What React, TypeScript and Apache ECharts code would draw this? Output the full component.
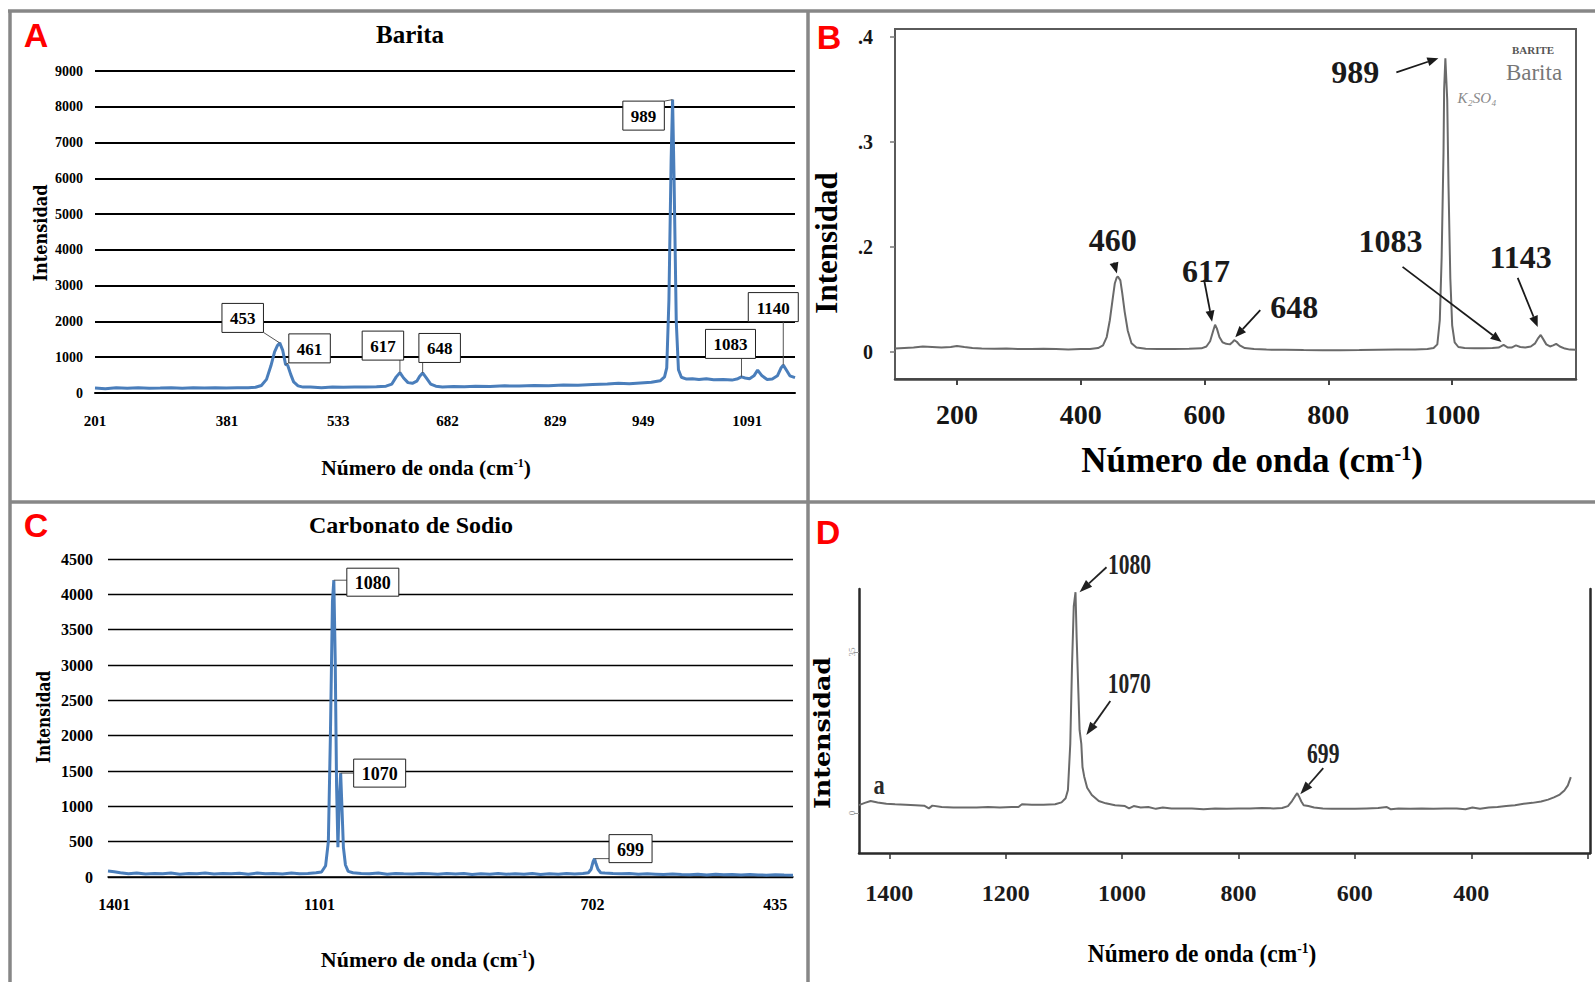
import React, { useEffect, useRef } from 'react';
import * as echarts from 'echarts';

const SERIF = '"Liberation Serif", "Times New Roman", Times, serif';
const WIDE = '"DejaVu Serif", "Liberation Serif", serif';
const SANS = '"Liberation Sans", Arial, sans-serif';
const FRAME = '#878787';

// ---------- Panel A: Barita (Excel chart) ----------
const A_WN = [201,215,230,245,260,275,290,305,320,335,350,365,380,395,410,420,428,435,441,446,450,453,457,461,464,468,472,478,485,495,510,525,540,555,570,585,598,606,612,617,622,628,634,640,644,648,653,659,666,675,690,705,720,740,760,780,800,820,840,860,880,900,915,930,945,960,972,978,981,984,987,989,991,994,997,1001,1008,1016,1025,1035,1045,1058,1070,1078,1083,1088,1094,1100,1105,1111,1118,1125,1132,1137,1140,1144,1149,1156];
const A_INT = [140,120,145,130,150,135,140,150,135,145,140,150,140,150,145,160,210,380,760,1150,1330,1400,1200,800,770,520,310,200,165,170,150,165,160,170,165,175,190,250,450,570,420,290,270,330,470,560,420,250,190,170,180,175,190,185,200,195,210,205,225,220,240,250,270,260,280,300,340,450,700,2600,6500,8200,6000,2000,650,440,390,400,380,400,370,380,360,400,450,420,400,480,640,480,380,390,480,700,780,650,480,430];
const A_X_TICKS = [201, 381, 533, 682, 829, 949, 1091];
const A_PEAK_WN = [453, 461, 617, 648, 989, 1083, 1140];
const A_PEAK_LABELS = ['453', '461', '617', '648', '989', '1083', '1140'];

// ---------- Panel B: Barita (reference spectrum) ----------
const B_WN = [100,115,130,145,160,175,190,200,212,225,240,260,280,300,320,340,360,380,400,415,428,436,442,447,452,455,458,460,464,467,471,476,482,490,505,525,550,575,595,603,609,614,617,620,624,629,635,641,645,648,652,657,665,680,700,730,760,790,820,850,880,910,940,960,970,976,980,983,986,987,989,992,994,997,1000,1004,1010,1020,1035,1050,1065,1075,1083,1090,1096,1103,1110,1118,1127,1134,1139,1143,1147,1152,1158,1163,1168,1174,1182,1190,1200];
const B_VAL = [0.1030,0.1035,0.1040,0.1050,0.1045,0.1040,0.1045,0.1055,0.1045,0.1035,0.1030,0.1028,0.1030,0.1025,0.1025,0.1028,0.1025,0.1022,0.1025,0.1025,0.1035,0.1060,0.1140,0.1300,0.1520,0.1650,0.1705,0.1717,0.1680,0.1560,0.1380,0.1200,0.1080,0.1040,0.1028,0.1025,0.1025,0.1028,0.1032,0.1050,0.1100,0.1200,0.1257,0.1220,0.1140,0.1090,0.1075,0.1070,0.1090,0.1110,0.1095,0.1060,0.1035,0.1025,0.1020,0.1018,0.1016,0.1015,0.1015,0.1016,0.1018,0.1020,0.1022,0.1025,0.1035,0.1070,0.1300,0.1900,0.2900,0.3500,0.3797,0.3400,0.2600,0.1700,0.1250,0.1090,0.1045,0.1035,0.1032,0.1032,0.1035,0.1040,0.1065,0.1040,0.1040,0.1060,0.1045,0.1040,0.1050,0.1080,0.1130,0.1160,0.1120,0.1070,0.1050,0.1060,0.1075,0.1050,0.1030,0.1020,0.1018];
const B_X_TICKS = [200, 400, 600, 800, 1000];
const B_Y_TICKS = [0.1, 0.2, 0.3, 0.4];
const B_Y_TICK_TEXT = ['0', '.2', '.3', '.4'];
const B_PEAK_WN = [460, 617, 648, 989, 1083, 1143];
const B_PEAK_LABELS = ['460', '617', '648', '989', '1083', '1143'];

// ---------- Panel C: Carbonato de Sodio (Excel chart) ----------
const C_WN = [1410,1401,1392,1380,1368,1355,1342,1330,1318,1305,1292,1280,1268,1255,1242,1230,1218,1205,1192,1180,1168,1155,1142,1130,1118,1106,1098,1092,1088,1085,1082,1080,1078,1076,1074,1072,1070,1068,1066,1063,1059,1052,1040,1028,1015,1002,990,978,965,952,940,928,915,902,890,878,865,852,840,828,815,802,790,778,765,752,740,728,716,708,704,701,699,697,694,690,684,672,660,648,635,622,610,598,585,572,560,548,535,522,510,498,485,472,460,448,435,422,409];
const C_INT = [85,75,60,45,55,42,50,45,55,40,50,45,55,42,50,45,52,40,55,45,50,42,55,45,50,60,70,160,500,2000,3900,4200,3100,1300,420,1100,1470,950,420,170,80,60,50,45,55,40,50,45,42,50,45,38,48,42,50,36,45,40,48,38,45,40,50,36,45,40,48,44,50,60,110,220,260,190,110,60,55,48,45,50,38,45,40,35,42,36,32,40,30,38,32,35,28,36,30,26,32,28,26];
const C_X_TICKS = [1401, 1101, 702, 435];
const C_PEAK_WN = [1080, 1070, 699];
const C_PEAK_LABELS = ['1080', '1070', '699'];

// ---------- Panel D: reference spectrum ----------
const D_WN = [1452,1442,1432,1420,1405,1390,1372,1355,1340,1332,1326,1310,1290,1270,1250,1230,1210,1190,1178,1172,1155,1135,1115,1104,1097,1093,1089,1086,1083,1080,1078,1075,1073,1070,1068,1065,1060,1052,1040,1028,1012,995,988,980,968,955,942,930,915,900,880,860,840,820,800,780,760,740,725,715,708,703,699,696,692,688,680,670,655,640,620,600,580,560,545,538,525,505,485,465,445,425,410,398,385,370,355,340,325,310,295,280,268,258,248,240,234,229];
const D_VAL = [1.7,2.2,2.6,2.3,2.0,1.9,1.8,1.7,1.6,1.0,1.6,1.3,1.2,1.2,1.2,1.3,1.2,1.3,1.3,1.9,1.8,1.8,1.9,2.3,3.2,5.0,15,32,45,48,38,26,18,15,10,7.9,5.5,3.9,2.6,2.1,1.7,1.5,1.0,1.5,1.2,1.3,0.9,1.2,1.0,1.0,1.0,0.8,1.0,0.9,1.0,1.0,1.1,1.0,1.1,1.5,2.6,3.6,4.3,3.6,2.5,1.7,1.5,1.2,1.0,0.9,0.9,0.9,1.0,1.1,1.3,0.8,1.0,0.9,1.0,0.9,1.0,1.0,0.8,1.2,0.9,1.2,1.3,1.5,1.7,2.0,2.2,2.5,2.9,3.4,4.0,4.9,6.0,7.8];
const D_X_TICKS = [1400, 1200, 1000, 800, 600, 400, 200];
const D_X_LABELS = [1400, 1200, 1000, 800, 600, 400];
const D_Y_TICKS = [0, 35];
const D_PEAK_WN = [1080, 1070, 699];
const D_PEAK_LABELS = ['1080', '1070', '699'];

// ---------- annotation layout (pixel offsets from the annotated point) ----------
const A_CALLOUT_OFFSET = [[-37, -25], [24, -16], [-17, -27], [17, -25], [-29, 16], [-11, -33], [-10, -58]];
const C_CALLOUT_OFFSET = [[39, 2], [39, 0], [36, -10]];
const B_TEXT_OFFSET = [[-5, -36], [-9, -54], [60, -33], [-90, 14], [-113, -104], [-20, -78]];
const B_TAIL_OFFSET = [[-4, -14], [-11, -45], [26, -30], [-49, 14], [-101, -78], [-23, -57]];
const B_TIP_OFFSET = [[-1, -3], [-3, -3], [1, -3], [-7, 0], [-2, -3], [-3, -8]];
const D_TEXT_OFFSET = [[54, -28], [48, -61], [26, -40]];
const D_TAIL_OFFSET = [[31, -25], [29, -43], [26, -25]];
const D_TIP_OFFSET = [[4, 0], [5, -9], [3, 1]];

function pairs(x: number[], y: number[]) {
  return x.map((v, i) => [v, y[i]]);
}
function anchors(xs: number[], ys: number[], peaks: number[]) {
  return peaks.map((w) => [w, ys[xs.indexOf(w)]]);
}

function boxCallout(labels: string[], offsets: number[][], fontSize: number, padH: number, padV: number) {
  return (params: any, api: any) => {
    const i = params.dataIndex;
    const p = api.coord([api.value(0), api.value(1)]);
    const text = labels[i];
    const w = text.length * fontSize * 0.5 + 2 * padH;
    const h = fontSize + 2 * padV;
    const cx = p[0] + offsets[i][0];
    const cy = p[1] + offsets[i][1];
    const left = cx - w / 2;
    const top = cy - h / 2;
    const ex = Math.min(Math.max(p[0], left), left + w);
    const ey = Math.min(Math.max(p[1], top), top + h);
    return {
      type: 'group',
      children: [
        { type: 'line', shape: { x1: p[0], y1: p[1], x2: ex, y2: ey }, style: { stroke: '#555', lineWidth: 1 } },
        { type: 'rect', shape: { x: left, y: top, width: w, height: h }, style: { fill: '#fff', stroke: '#222', lineWidth: 1 } },
        {
          type: 'text', x: cx, y: cy + 1,
          style: {
            text, fontSize, fontFamily: SERIF, fontWeight: 'bold', fill: '#000',
            align: 'center', verticalAlign: 'middle', textAlign: 'center', textVerticalAlign: 'middle',
          },
        },
      ],
    };
  };
}

function arrowNote(labels: string[], textOff: number[][], tailOff: number[][], tipOff: number[][],
  fontSize: number, scaleX: number, color: string, headL: number, headW: number) {
  return (params: any, api: any) => {
    const i = params.dataIndex;
    const p = api.coord([api.value(0), api.value(1)]);
    const tx = p[0] + tailOff[i][0], ty = p[1] + tailOff[i][1];
    const hx = p[0] + tipOff[i][0], hy = p[1] + tipOff[i][1];
    const ang = Math.atan2(hy - ty, hx - tx);
    const bx = hx - headL * Math.cos(ang), by = hy - headL * Math.sin(ang);
    const nx = -Math.sin(ang) * headW / 2, ny = Math.cos(ang) * headW / 2;
    return {
      type: 'group',
      children: [
        { type: 'line', shape: { x1: tx, y1: ty, x2: bx, y2: by }, style: { stroke: color, lineWidth: 1.8 } },
        { type: 'polygon', shape: { points: [[hx, hy], [bx + nx, by + ny], [bx - nx, by - ny]] }, style: { fill: color } },
        {
          type: 'text', x: p[0] + textOff[i][0], y: p[1] + textOff[i][1], scaleX,
          style: {
            text: labels[i], fontSize, fontFamily: SERIF, fontWeight: 'bold', fill: color,
            align: 'center', verticalAlign: 'middle', textAlign: 'center', textVerticalAlign: 'middle',
          },
        },
      ],
    };
  };
}

function txt(x: number, y: number, text: string, fontSize: number, opts: any = {}) {
  const { rotation = 0, scaleX = 1, family = SERIF, weight = 'bold', fill = '#000', style = 'normal', rich } = opts;
  return {
    type: 'text', x, y, rotation, scaleX, silent: true,
    style: {
      text, fontSize, fontFamily: family, fontWeight: weight, fontStyle: style, fill,
      align: 'center', verticalAlign: 'middle', textAlign: 'center', textVerticalAlign: 'middle',
      rich,
    },
  };
}
function supRich(size: number, weight = 'bold') {
  return { sup: { fontSize: size, fontFamily: SERIF, fontWeight: weight, fill: '#000', verticalAlign: 'top' } };
}
function frameLine(x1: number, y1: number, x2: number, y2: number) {
  return { type: 'line', silent: true, shape: { x1, y1, x2, y2 }, style: { stroke: FRAME, lineWidth: 3.5 } };
}

const plain = (v: number) => String(v);

function buildOption() {
  const excelLabel = (size: number, margin: number) => ({
    fontFamily: SERIF, fontWeight: 'bold', fontSize: size, color: '#000', margin,
  });
  return {
    animation: false,
    backgroundColor: '#ffffff',
    grid: [
      { left: 95, top: 71, width: 700, height: 322, outerBoundsMode: 'none' },
      { left: 895, top: 29, width: 681, height: 350, show: true, borderColor: '#5a5a5a', borderWidth: 2, backgroundColor: 'transparent', outerBoundsMode: 'none' },
      { left: 108, top: 559, width: 685, height: 318, outerBoundsMode: 'none' },
      { left: 859, top: 589, width: 731, height: 264, outerBoundsMode: 'none' },
    ],
    xAxis: [
      {
        gridIndex: 0, type: 'value', min: 201, max: 1156,
        axisLine: { show: true, onZero: false, lineStyle: { color: '#000', width: 2 } },
        axisTick: { show: false }, splitLine: { show: false },
        axisLabel: { ...excelLabel(15, 20), customValues: A_X_TICKS, formatter: plain },
      },
      {
        gridIndex: 1, type: 'value', min: 100, max: 1200,
        axisLine: { show: true, onZero: false, lineStyle: { color: '#444', width: 2.5 } },
        axisTick: { show: true, customValues: B_X_TICKS, length: 6, lineStyle: { color: '#444', width: 2 } },
        splitLine: { show: false },
        axisLabel: { fontFamily: SERIF, fontWeight: 'bold', fontSize: 28, color: '#151515', margin: 21, customValues: B_X_TICKS, formatter: plain },
      },
      {
        gridIndex: 2, type: 'value', inverse: true, min: 409, max: 1410,
        axisLine: { show: true, onZero: false, lineStyle: { color: '#000', width: 1.5 } },
        axisTick: { show: false }, splitLine: { show: false },
        axisLabel: { ...excelLabel(16, 19), customValues: C_X_TICKS, formatter: plain },
      },
      {
        gridIndex: 3, type: 'value', inverse: true, min: 196, max: 1452,
        axisLine: { show: true, onZero: false, lineStyle: { color: '#2a2a2a', width: 2.5 } },
        axisTick: { show: true, customValues: D_X_TICKS, length: 6, lineStyle: { color: '#333', width: 1.5 } },
        splitLine: { show: false },
        axisLabel: { fontFamily: SERIF, fontWeight: 'bold', fontSize: 24, color: '#1a1a1a', margin: 28, customValues: D_X_LABELS, formatter: plain },
      },
    ],
    yAxis: [
      {
        gridIndex: 0, type: 'value', min: 0, max: 9000, interval: 1000,
        axisLine: { show: false }, axisTick: { show: false },
        splitLine: { show: true, lineStyle: { color: '#000', width: 2 } },
        axisLabel: { ...excelLabel(14, 12), formatter: plain },
      },
      {
        gridIndex: 1, type: 'value', min: 0.074, max: 0.4076,
        axisLine: { show: false },
        axisTick: { show: true, customValues: B_Y_TICKS, length: 5, lineStyle: { color: '#777', width: 1.5 } },
        splitLine: { show: false },
        axisLabel: {
          fontFamily: SERIF, fontWeight: 'bold', fontSize: 20, color: '#151515', margin: 22,
          customValues: B_Y_TICKS,
          formatter: (v: number) => {
            const i = B_Y_TICKS.findIndex((t) => Math.abs(t - v) < 1e-6);
            return i >= 0 ? B_Y_TICK_TEXT[i] : '';
          },
        },
      },
      {
        gridIndex: 2, type: 'value', min: 0, max: 4500, interval: 500,
        axisLine: { show: false }, axisTick: { show: false },
        splitLine: { show: true, lineStyle: { color: '#000', width: 1.3 } },
        axisLabel: { ...excelLabel(16, 15), formatter: plain },
      },
      {
        gridIndex: 3, type: 'value', min: -8.7, max: 48.7,
        axisLine: { show: true, onZero: false, lineStyle: { color: '#2a2a2a', width: 2.5 } },
        axisTick: { show: true, customValues: D_Y_TICKS, length: 5, lineStyle: { color: '#999', width: 1 } },
        splitLine: { show: false },
        axisLabel: { fontFamily: SERIF, fontSize: 9, color: '#999', margin: 3, rotate: 90, customValues: D_Y_TICKS, formatter: plain },
      },
      {
        gridIndex: 3, type: 'value', position: 'right', min: -8.7, max: 48.7,
        axisLine: { show: true, onZero: false, lineStyle: { color: '#2a2a2a', width: 2.5 } },
        axisTick: { show: false }, axisLabel: { show: false }, splitLine: { show: false },
      },
    ],
    series: [
      {
        type: 'line', xAxisIndex: 0, yAxisIndex: 0, data: pairs(A_WN, A_INT), symbol: 'none', silent: true,
        lineStyle: { color: '#4a7ebb', width: 3 }, itemStyle: { color: '#4a7ebb' },
      },
      {
        type: 'custom', xAxisIndex: 0, yAxisIndex: 0, z: 10, silent: true,
        data: anchors(A_WN, A_INT, A_PEAK_WN),
        renderItem: boxCallout(A_PEAK_LABELS, A_CALLOUT_OFFSET, 17, 8, 6),
      },
      {
        type: 'line', xAxisIndex: 1, yAxisIndex: 1, data: pairs(B_WN, B_VAL), symbol: 'none', silent: true,
        lineStyle: { color: '#6a6a6a', width: 2 }, itemStyle: { color: '#6a6a6a' },
      },
      {
        type: 'custom', xAxisIndex: 1, yAxisIndex: 1, z: 10, silent: true,
        data: anchors(B_WN, B_VAL, B_PEAK_WN),
        renderItem: arrowNote(B_PEAK_LABELS, B_TEXT_OFFSET, B_TAIL_OFFSET, B_TIP_OFFSET, 32, 1, '#1a1a1a', 11, 9),
      },
      {
        type: 'line', xAxisIndex: 2, yAxisIndex: 2, data: pairs(C_WN, C_INT), symbol: 'none', silent: true,
        lineStyle: { color: '#4a7ebb', width: 3 }, itemStyle: { color: '#4a7ebb' },
      },
      {
        type: 'custom', xAxisIndex: 2, yAxisIndex: 2, z: 10, silent: true,
        data: anchors(C_WN, C_INT, C_PEAK_WN),
        renderItem: boxCallout(C_PEAK_LABELS, C_CALLOUT_OFFSET, 18, 8, 5),
      },
      {
        type: 'line', xAxisIndex: 3, yAxisIndex: 3, data: pairs(D_WN, D_VAL), symbol: 'none', silent: true,
        lineStyle: { color: '#6a6a6a', width: 2 }, itemStyle: { color: '#6a6a6a' },
      },
      {
        type: 'custom', xAxisIndex: 3, yAxisIndex: 3, z: 10, silent: true,
        data: anchors(D_WN, D_VAL, D_PEAK_WN),
        renderItem: arrowNote(D_PEAK_LABELS, D_TEXT_OFFSET, D_TAIL_OFFSET, D_TIP_OFFSET, 30, 0.72, '#222', 13, 9),
      },
    ],
    graphic: {
      elements: [
        frameLine(8, 11, 1595, 11),
        frameLine(10, 10, 10, 982),
        frameLine(808, 10, 808, 982),
        frameLine(10, 502, 1595, 502),
        // panel letters
        txt(36, 35, 'A', 34, { family: SANS, fill: '#ff0000' }),
        txt(829, 37, 'B', 34, { family: SANS, fill: '#ff0000' }),
        txt(36, 525, 'C', 34, { family: SANS, fill: '#ff0000' }),
        txt(828, 532, 'D', 34, { family: SANS, fill: '#ff0000' }),
        // titles
        txt(410, 34, 'Barita', 25),
        txt(411, 525, 'Carbonato de Sodio', 24),
        // y axis names
        txt(40, 233, 'Intensidad', 19, { rotation: Math.PI / 2, scaleX: 0.85, family: WIDE }),
        txt(826, 243, 'Intensidad', 31, { rotation: Math.PI / 2 }),
        txt(43, 717, 'Intensidad', 19, { rotation: Math.PI / 2, scaleX: 0.81, family: WIDE }),
        txt(823, 733, 'Intensidad', 22, { rotation: Math.PI / 2, scaleX: 1.15, family: WIDE }),
        // x axis names
        txt(426, 468, 'Número de onda (cm{sup|-1})', 21.5, { rich: supRich(12) }),
        txt(1252, 460, 'Número de onda (cm{sup|-1})', 35, { rich: supRich(20) }),
        txt(428, 959, 'Número de onda (cm{sup|-1})', 22, { rich: supRich(12) }),
        txt(1202, 953, 'Número de onda (cm{sup|-1})', 26, { scaleX: 0.9, rich: supRich(15) }),
        // scanned-figure inscriptions
        txt(1533, 50, 'BARITE', 11, { fill: '#555' }),
        txt(1534, 72, 'Barita', 23, { weight: 'normal', fill: '#777' }),
        txt(1477, 98, 'K₂SO₄', 15, { weight: 'normal', style: 'italic', fill: '#8a8a8a' }),
        txt(879, 784, 'a', 28, { scaleX: 0.8, fill: '#2a2a2a' }),
      ],
    },
  };
}

export default function App() {
  const ref = useRef<HTMLDivElement>(null);
  useEffect(() => {
    if (!ref.current) return;
    const chart = echarts.init(ref.current, null, { renderer: 'svg' });
    chart.setOption(buildOption() as any);
    return () => chart.dispose();
  }, []);
  return (
    <div
      ref={ref}
      style={{ position: 'fixed', left: 0, top: 0, width: '1595px', height: '982px', background: '#fff' }}
    />
  );
}
